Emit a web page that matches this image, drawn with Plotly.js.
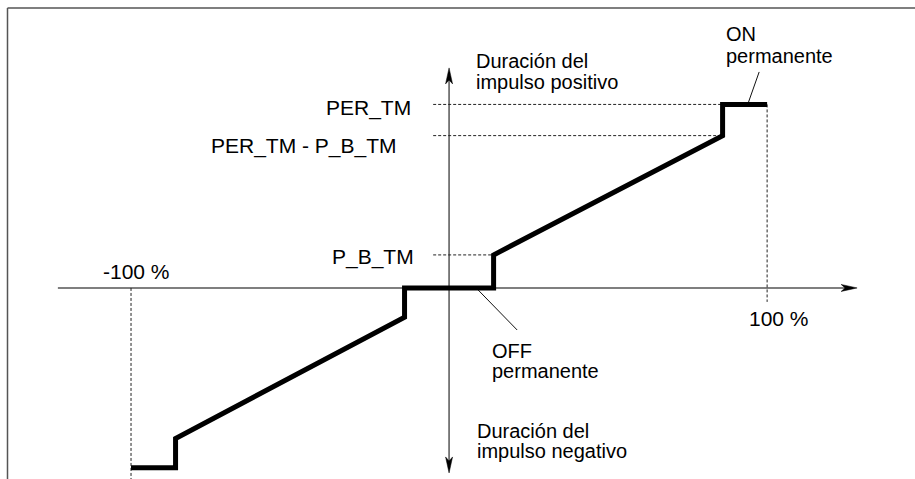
<!DOCTYPE html>
<html>
<head>
<meta charset="utf-8">
<script src="https://cdn.plot.ly/plotly-3.0.1.min.js"></script>
<style>
  html, body { margin: 0; padding: 0; background: #fff; }
  #myPlot { width: 915px; height: 479px; }
</style>
</head>
<body>
<div id="myPlot"></div>
<script>
// characteristic curve: input (%) vs pulse duration
const stepX = [-100, -86, -86, -14, -14, 14, 14, 86, 86, 100];
const stepY = [-98, -98, -82, -16, 0, 0, 18, 83, 100, 100];

// reference levels on the duration axis
const levelNames = ['PER_TM', 'PER_TM - P_B_TM', 'P_B_TM'];
const levelY = [100, 83, 18];
const levelEndX = [86, 86, 14];

// axis extents
const xAxisSpan = [-123, 128.3];
const yAxisSpan = [-100.8, 119.9];

const FONT = 'Liberation Sans, Arial, Helvetica, sans-serif';
const txt = { family: FONT, size: 20, color: '#000' };
const txtBig = { family: FONT, size: 21, color: '#000' };

const trace = {
  x: stepX, y: stepY, mode: 'lines',
  line: { color: '#000', width: 5 },
  hoverinfo: 'skip'
};

const shapes = [];
function seg(x0, y0, x1, y1, color, width, dash) {
  shapes.push({ type: 'line', xref: 'x', yref: 'y', x0: x0, y0: y0, x1: x1, y1: y1,
    line: { color: color, width: width, dash: dash || 'solid' }, layer: 'below' });
}

// frame (top and left)
shapes.push({ type: 'line', xref: 'paper', yref: 'paper', x0: 0.0082, x1: 1, y0: 0.9833, y1: 0.9833, line: { color: '#555', width: 1.5 } });
shapes.push({ type: 'line', xref: 'paper', yref: 'paper', x0: 0.0082, x1: 0.0082, y0: 0, y1: 0.9833, line: { color: '#555', width: 1.5 } });

// axes
seg(xAxisSpan[0], 0, xAxisSpan[1] - 3, 0, '#555', 1.5);
seg(0, yAxisSpan[0] + 4, 0, yAxisSpan[1] - 4, '#555', 1.5);

// arrow heads
shapes.push({ type: 'path', xref: 'x', yref: 'y', xsizemode: 'pixel', ysizemode: 'pixel',
  xanchor: xAxisSpan[1], yanchor: 0, path: 'M0,0 L-16,3.5 L-12,0 L-16,-3.5 Z',
  fillcolor: '#000', line: { color: '#000', width: 0.5 } });
shapes.push({ type: 'path', xref: 'x', yref: 'y', xsizemode: 'pixel', ysizemode: 'pixel',
  xanchor: 0, yanchor: yAxisSpan[1], path: 'M0,0 L-3.5,-16 L0,-12 L3.5,-16 Z',
  fillcolor: '#000', line: { color: '#000', width: 0.5 } });
shapes.push({ type: 'path', xref: 'x', yref: 'y', xsizemode: 'pixel', ysizemode: 'pixel',
  xanchor: 0, yanchor: yAxisSpan[0], path: 'M0,0 L-3.5,16 L0,12 L3.5,16 Z',
  fillcolor: '#000', line: { color: '#000', width: 0.5 } });

// dashed guides
for (let i = 0; i < levelY.length; i++) {
  seg(-5, levelY[i], levelEndX[i], levelY[i], '#222', 1, '3px,2px');
}
seg(100, 100, 100, -7.6, '#222', 1, '3px,2px');
seg(-100, 0, -100, -104.1, '#222', 1, '3px,2px');

// leader lines
seg(94, 100.5, 97.5, 117.7, '#111', 1);
seg(8.8, -0.5, 21.4, -22.9, '#111', 1);

function lab(text, x, y, xanchor, font) {
  return { text: text, x: x, y: y, xref: 'x', yref: 'y', showarrow: false,
    xanchor: xanchor, yanchor: 'middle', font: font || txt };
}

const annotations = [
  lab(levelNames[0], -11.4, 97.8, 'right', txtBig),
  lab(levelNames[1], -15.8, 77.5, 'right', txtBig),
  lab(levelNames[2], -10.5, 17, 'right', txtBig),
  lab('-100 %', -109.4, 9, 'left', txtBig),
  lab('100 %', 93.8, -16.9, 'left', txtBig),
  lab('Duración del', 7.9, 123.6, 'left'),
  lab('impulso positivo', 7.9, 112.4, 'left'),
  lab('ON', 86.5, 138.5, 'left'),
  lab('permanente', 86.5, 126.6, 'left'),
  lab('OFF', 12.9, -34.2, 'left'),
  lab('permanente', 12.9, -45.2, 'left'),
  lab('Duración del', 8.2, -77.8, 'left'),
  lab('impulso negativo', 8.2, -88.9, 'left')
];

const layout = {
  width: 915, height: 479,
  margin: { l: 0, r: 0, t: 0, b: 0 },
  paper_bgcolor: '#fff', plot_bgcolor: '#fff',
  showlegend: false,
  xaxis: { range: [-141.2, 146.5], visible: false, fixedrange: true },
  yaxis: { range: [-104.1, 156.9], visible: false, fixedrange: true },
  shapes: shapes,
  annotations: annotations
};

Plotly.newPlot('myPlot', [trace], layout, { staticPlot: true, displayModeBar: false });
</script>
</body>
</html>
